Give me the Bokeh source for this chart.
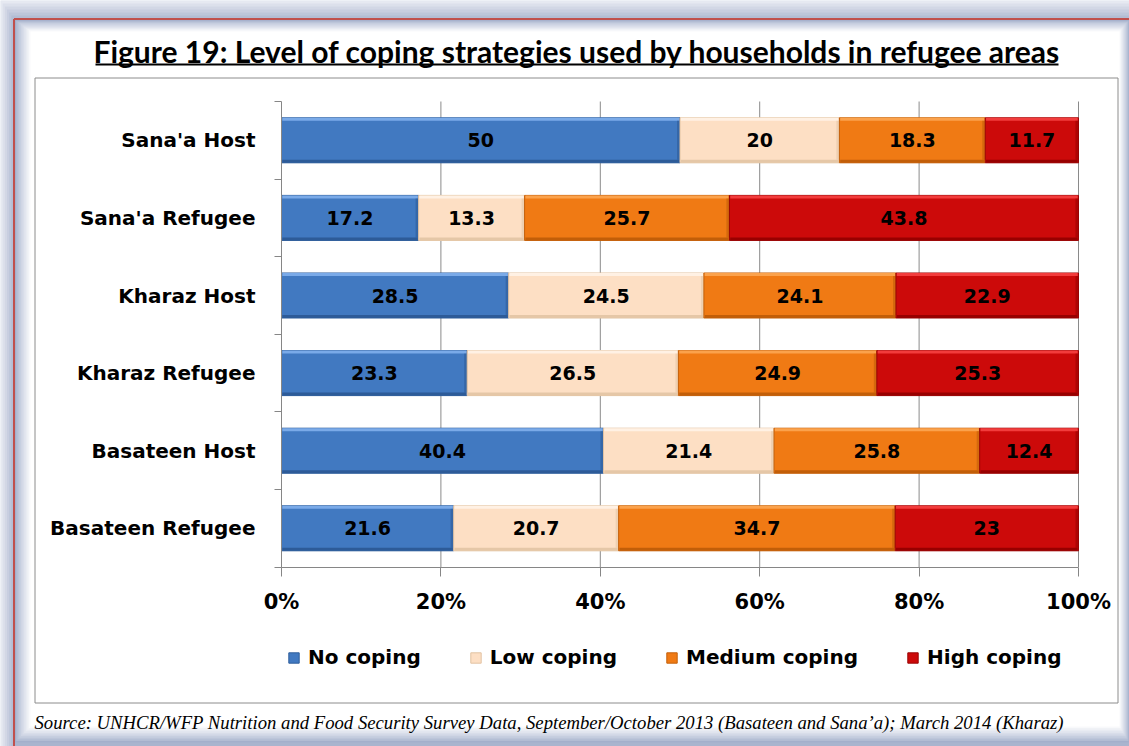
import numpy as np
from bokeh.plotting import figure
from bokeh.models import Range1d, LinearAxis, FixedTicker, ColumnDataSource, Legend, LegendItem
from bokeh.core.properties import value
from bokeh.embed import file_html
from bokeh.resources import INLINE

# ---------------- data ----------------
categories = ["Sana'a Host", "Sana'a Refugee", "Kharaz Host", "Kharaz Refugee",
              "Basateen Host", "Basateen Refugee"]
series_names = ["No coping", "Low coping", "Medium coping", "High coping"]
no_coping = [50, 17.2, 28.5, 23.3, 40.4, 21.6]
low_coping = [20, 13.3, 24.5, 26.5, 21.4, 20.7]
medium_coping = [18.3, 25.7, 24.1, 24.9, 25.8, 34.7]
high_coping = [11.7, 43.8, 22.9, 25.3, 12.4, 23]
x_ticks = [0, 20, 40, 60, 80, 100]
x_tick_labels = ["0%", "20%", "40%", "60%", "80%", "100%"]
title_text = "Figure 19: Level of coping strategies used by households in refugee areas"
source_text = ("Source: UNHCR/WFP Nutrition and Food Security Survey Data, "
               "September/October 2013 (Basateen and Sana\u2019a); March 2014 (Kharaz)")

series_values = [no_coping, low_coping, medium_coping, high_coping]

# ---------------- styles ----------------
fill_colors = ["#4179C1", "#FDDFC4", "#F07A14", "#CC0A0A"]
top_colors = ["#7AAAE8", "#FFF1E4", "#FBA24C", "#F23C3C"]
bottom_colors = ["#2D5B98", "#E5C7A7", "#C25E08", "#980000"]
edge_colors = ["#2F5E9C", "#E2C3A2", "#C4600A", "#9A0505"]

W, H = 1129, 746
X0, X100 = 281, 1078
Y_TOP, BAND = 101, 77.6
BAR_H = 0.58

pp = (X100 - X0) / 100.0
x_range = Range1d(start=-X0 / pp, end=(W - X0) / pp)
y_range = Range1d(start=(H - Y_TOP) / BAND, end=-Y_TOP / BAND)

p = figure(width=W, height=H, x_range=x_range, y_range=y_range,
           output_backend="svg", toolbar_location=None,
           x_axis_type=None, y_axis_type=None,
           min_border=0, min_border_left=0, min_border_right=0,
           min_border_top=0, min_border_bottom=0)
p.outline_line_color = None
p.background_fill_color = "#E4E8F0"
p.border_fill_color = "#E4E8F0"
# decoration coordinates in canvas pixels (y downwards)
p.extra_x_ranges = {"px": Range1d(start=0, end=W)}
p.extra_y_ranges = {"px": Range1d(start=H, end=0)}
PX = dict(x_range_name="px", y_range_name="px")

def mix(c1, c2, t):
    a = [int(c1[i:i + 2], 16) for i in (1, 3, 5)]
    b = [int(c2[i:i + 2], 16) for i in (1, 3, 5)]
    return "#%02x%02x%02x" % tuple(int(round(a[i] + (b[i] - a[i]) * t)) for i in range(3))

# outer shadow (lighter at the page edge, darker towards the red frame)
M = 6
for k in range(M + 1):
    t = k / M
    p.quad(left=[13 * t], right=[W], top=[18 * t], bottom=[H],
           fill_color=mix("#E6E9F1", "#A9B4CE", t), line_color=None, **PX)

# inner shadow (nested quads fading to white)
N = 10
for k in range(N + 1):
    t = k / N
    p.quad(left=[14 + 16 * t], right=[1129 - 10 * t], top=[19 + 12 * t], bottom=[742 - 16 * t],
           fill_color=mix("#A3AFCB", "#FFFFFF", t ** 0.8), line_color=None, **PX)

# red frame lines
p.segment(x0=[13.5, 13.5], y0=[18.5, 18.5], x1=[1130, 13.5], y1=[18.5, 746],
          line_color="#C0504D", line_width=2, **PX)

# chart box
p.quad(left=[34.5], right=[1117.5], top=[77.5], bottom=[702.5],
       fill_color="white", line_color="#8C8C8C", line_width=1, **PX)

# title with underline
p.text(x=[576.5], y=[50], text=[title_text], text_font=value("Lato"),
       text_font_style="bold", text_font_size="30px", text_align="center",
       text_baseline="alphabetic", text_color="black", **PX)
p.segment(x0=[95], x1=[1058], y0=[64], y1=[64], line_color="black", line_width=2, **PX)

# source line
p.text(x=[34], y=[722], text=[source_text], text_font=value("Liberation Serif"),
       text_font_style="italic", text_font_size="18.7px", text_align="left",
       text_baseline="alphabetic", text_color="black", **PX)

# vertical gridlines
n = len(categories)
p.segment(x0=x_ticks[1:], x1=x_ticks[1:], y0=[0] * (len(x_ticks) - 1), y1=[n] * (len(x_ticks) - 1),
          line_color="#8A8A8A", line_width=1)

# bars
ys = np.arange(n) + 0.5
lefts = np.zeros(n)
strip = 3.0 / BAND
edge_w = 3.0 / pp
renderers = []
for name, vals, fc, tc, bc, ec in zip(series_names, series_values, fill_colors,
                                        top_colors, bottom_colors, edge_colors):
    vals = np.array(vals, dtype=float)
    rights = lefts + vals
    src = ColumnDataSource(dict(y=ys, left=lefts, right=rights,
                                mid=(lefts + rights) / 2,
                                label=[f"{v:g}" for v in vals]))
    r = p.hbar(y="y", left="left", right="right", height=BAR_H, source=src,
               fill_color=fc, line_color=ec, line_width=1)
    renderers.append(r)
    p.hbar(y=ys - BAR_H / 2 + strip / 2, left=lefts + 0.1, right=rights - 0.1, height=strip,
           fill_color=tc, line_color=None)
    p.hbar(y=ys + BAR_H / 2 - strip / 2, left=lefts + 0.1, right=rights - 0.1, height=strip,
           fill_color=bc, line_color=None)
    p.hbar(y=ys, left=rights - edge_w, right=rights, height=BAR_H - 2 * strip,
           fill_color=bc, fill_alpha=0.6, line_color=None)
    p.text(x="mid", y="y", text="label", source=src, text_font=value("DejaVu Sans"),
           text_font_style="bold", text_font_size="19px", text_align="center",
           text_baseline="middle", text_color="black")
    lefts = rights

# axes (fixed inside the frame)
xaxis = LinearAxis(fixed_location=n, bounds=(0, 100),
                   ticker=FixedTicker(ticks=x_ticks, minor_ticks=[]),
                   major_label_overrides={t: l for t, l in zip(x_ticks, x_tick_labels)},
                   axis_line_color="#868686", major_tick_line_color="#868686",
                   major_tick_out=9, major_tick_in=0, minor_tick_out=0, minor_tick_in=0,
                   major_label_standoff=14,
                   major_label_text_font="DejaVu Sans", major_label_text_font_style="bold",
                   major_label_text_font_size="21px", major_label_text_color="black")
p.add_layout(xaxis, "below")

yaxis = LinearAxis(fixed_location=0, bounds=(0, n),
                   ticker=FixedTicker(ticks=list(ys), minor_ticks=list(range(n + 1))),
                   major_label_overrides={float(y): c for y, c in zip(ys, categories)},
                   axis_line_color="#868686", minor_tick_line_color="#868686",
                   major_tick_out=0, major_tick_in=0, minor_tick_out=7, minor_tick_in=0,
                   major_label_standoff=19,
                   major_label_text_font="DejaVu Sans", major_label_text_font_style="bold",
                   major_label_text_font_size="20px", major_label_text_color="black")
p.add_layout(yaxis, "left")

legend = Legend(items=[LegendItem(label=nm, renderers=[r]) for nm, r in zip(series_names, renderers)],
                orientation="horizontal", location=(287, 77),
                glyph_width=13, glyph_height=13, label_standoff=8, spacing=48,
                padding=0, margin=0, border_line_color=None, background_fill_alpha=0,
                label_text_font="DejaVu Sans", label_text_font_style="bold",
                label_text_font_size="20px", label_text_color="black")
p.add_layout(legend)

open("out.html", "w").write(file_html(p, INLINE))
